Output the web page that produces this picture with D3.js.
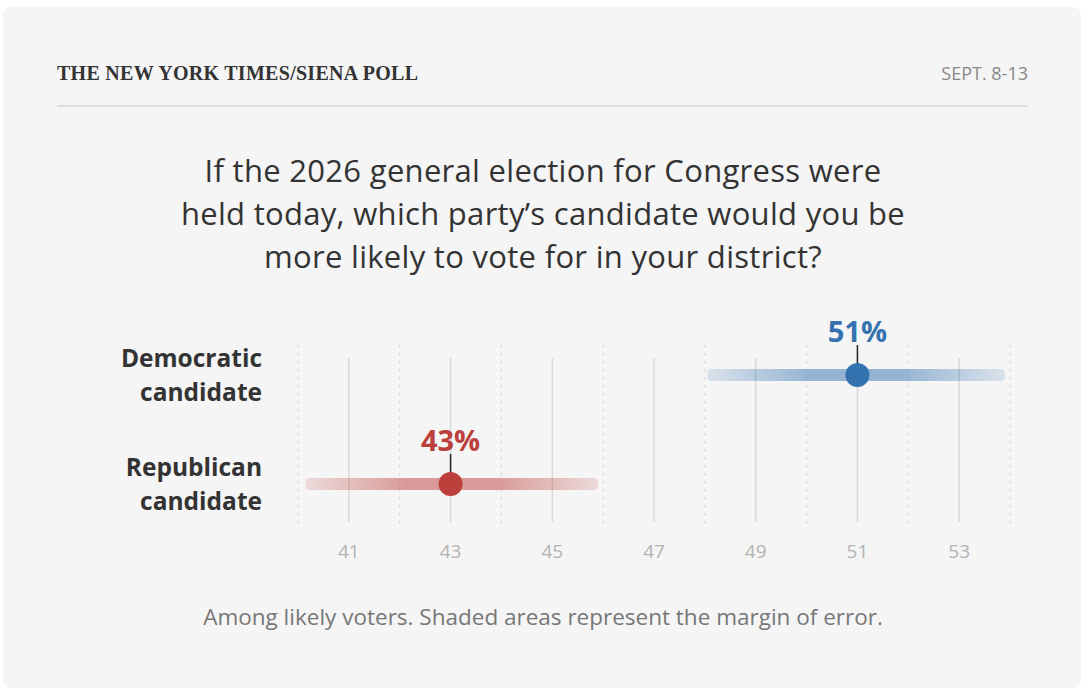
<!DOCTYPE html>
<html><head><meta charset="utf-8">
<script src="https://cdn.jsdelivr.net/npm/d3@7"></script>
<style>body{margin:0;background:#fff}</style>
</head><body>
<svg id="c" width="1086" height="698"></svg>
<script>
const parties = ["Democratic", "Republican"];
const rowLabels = [["Democratic", "candidate"], ["Republican", "candidate"]];
const estimates = [51, 43];
const lows = [48.05, 40.15];
const highs = [53.9, 45.9];
const colors = ["#3572b0", "#bb3f3b"];
const ticks = [41, 43, 45, 47, 49, 51, 53];
const minorTicks = [40, 42, 44, 46, 48, 50, 52, 54];

const svg = d3.select("#c");
const font = "'Open Sans', sans-serif";
svg.append("rect").attr("x", 3).attr("y", 7).attr("width", 1078).attr("height", 681)
  .attr("rx", 8).attr("fill", "#f5f5f5");

svg.append("text").attr("x", 57).attr("y", 80).text("THE NEW YORK TIMES/SIENA POLL")
  .attr("font-family", "'Liberation Serif', serif").attr("font-weight", 700)
  .attr("font-size", 20).attr("fill", "#333").attr("textLength", 361);
svg.append("text").attr("x", 1028).attr("y", 80).attr("text-anchor", "end").text("SEPT. 8-13")
  .attr("font-family", font).attr("font-size", 18).attr("fill", "#888");
svg.append("line").attr("x1", 57).attr("x2", 1028).attr("y1", 106).attr("y2", 106)
  .attr("stroke", "#c8c8c8");

["If the 2026 general election for Congress were",
 "held today, which party\u2019s candidate would you be",
 "more likely to vote for in your district?"].forEach((t, i) =>
  svg.append("text").attr("x", 543).attr("y", 182 + i * 43).attr("text-anchor", "middle")
    .text(t).attr("font-family", font).attr("font-size", 31).attr("fill", "#333")
    .attr("letter-spacing", 0.3));

const x = d3.scaleLinear().domain([40, 54]).range([298, 1010]);
const y = d3.scalePoint().domain(parties).range([375, 484]);

const g = svg.append("g");
g.selectAll(".minor").data(minorTicks).join("line")
  .attr("x1", d => x(d)).attr("x2", d => x(d)).attr("y1", 345).attr("y2", 524)
  .attr("stroke", "#d4d4d4").attr("stroke-dasharray", "3,5");
g.selectAll(".major").data(ticks).join("line")
  .attr("x1", d => x(d)).attr("x2", d => x(d)).attr("y1", 358).attr("y2", 522)
  .attr("stroke", "#d8d8d8").attr("stroke-width", 1.5);
g.selectAll(".tl").data(ticks).join("text")
  .attr("x", d => x(d)).attr("y", 558).attr("text-anchor", "middle").text(d => d)
  .attr("font-family", font).attr("font-size", 19).attr("fill", "#b3b3b3");

const defs = svg.append("defs");
parties.forEach((p, i) => {
  const gr = defs.append("linearGradient").attr("id", "gr" + i);
  [[0, 0.15], [0.35, 0.5], [0.5, 0.5], [0.65, 0.5], [1, 0.15]].forEach(([o, a]) =>
    gr.append("stop").attr("offset", o).attr("stop-color", colors[i]).attr("stop-opacity", a));
});

parties.forEach((p, i) => {
  const cy = y(p);
  svg.append("rect").attr("x", x(lows[i])).attr("width", x(highs[i]) - x(lows[i]))
    .attr("y", cy - 6).attr("height", 12).attr("rx", 4).attr("fill", `url(#gr${i})`);
  svg.append("line").attr("x1", x(estimates[i])).attr("x2", x(estimates[i]))
    .attr("y1", cy - 30).attr("y2", cy - 8).attr("stroke", "#222").attr("stroke-width", 1.5);
  svg.append("circle").attr("cx", x(estimates[i])).attr("cy", cy).attr("r", 12)
    .attr("fill", colors[i]);
  svg.append("text").attr("x", x(estimates[i])).attr("y", cy - 33).attr("text-anchor", "middle")
    .text(estimates[i] + "%").attr("font-family", font).attr("font-weight", 700)
    .attr("font-size", 29).attr("fill", colors[i]);
  rowLabels[i].forEach((t, j) =>
    svg.append("text").attr("x", 262).attr("y", cy - 8 + j * 34).attr("text-anchor", "end")
      .text(t).attr("font-family", font).attr("font-weight", 700)
      .attr("font-size", 24.5).attr("fill", "#333"));
});

svg.append("text").attr("x", 543).attr("y", 625).attr("text-anchor", "middle")
  .text("Among likely voters. Shaded areas represent the margin of error.")
  .attr("font-family", font).attr("font-size", 22.5).attr("fill", "#777");
</script>
</body></html>
